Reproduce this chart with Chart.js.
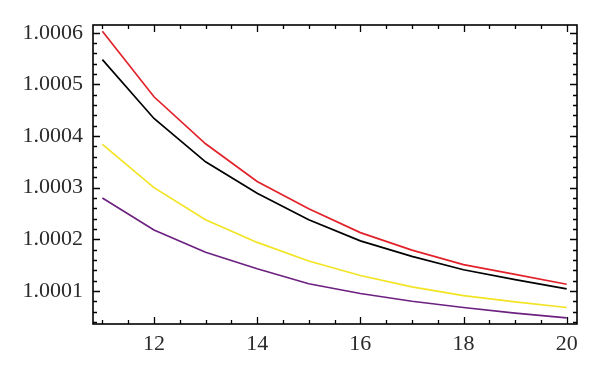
<!DOCTYPE html>
<html>
<head>
<meta charset="utf-8">
<script src="https://cdn.jsdelivr.net/npm/chart.js@4.4.0/dist/chart.umd.min.js"></script>
<style>
  html, body { margin: 0; padding: 0; background: #fff; }
  #wrap { width: 600px; height: 377px; }
</style>
</head>
<body>
<div id="wrap"><canvas id="chart-ratio" width="600" height="377"></canvas></div>
<script>
var xValues = [11, 12, 13, 14, 15, 16, 17, 18, 19, 20];
var redValues = [1.000603, 1.000476, 1.000385, 1.000312, 1.000259, 1.000213, 1.000179, 1.000151, 1.000132, 1.000113];
var blackValues = [1.000548, 1.000434, 1.000350, 1.000289, 1.000238, 1.000197, 1.000167, 1.000141, 1.000122, 1.000104];
var yellowValues = [1.000384, 1.000300, 1.000238, 1.000194, 1.000158, 1.000130, 1.000108, 1.000091, 1.000079, 1.000068];
var purpleValues = [1.000280, 1.000218, 1.000175, 1.000143, 1.000114, 1.000095, 1.000080, 1.000068, 1.000057, 1.000048];
var xTicks = [12, 14, 16, 18, 20];
var yTicks = [1.0001, 1.0002, 1.0003, 1.0004, 1.0005, 1.0006];

window.ratioChart = (function () {
    var fontSpec = { family: '"Liberation Serif", "Times New Roman", serif', size: 22 };

    var toPoints = function (ys) {
        var pts = [];
        for (var i = 0; i < xValues.length; ++i) {
            pts.push({ x: xValues[i], y: ys[i] });
        }
        return pts;
    };

    var makeSet = function (ys, color) {
        return {
            data: toPoints(ys),
            borderColor: color,
            borderWidth: 1.7,
            pointRadius: 0,
            tension: 0,
            fill: false
        };
    };

    // frame with inward ticks on all four sides (Mathematica style)
    var frameTicks = {
        id: 'frameTicks',
        afterDatasetsDraw: function (chart) {
            var ctx = chart.ctx;
            var a = chart.chartArea;
            var xs = chart.scales.x;
            var ys = chart.scales.y;
            var v, p, len, k;
            ctx.save();
            ctx.strokeStyle = '#000';
            ctx.lineWidth = 1.3;
            ctx.beginPath();
            for (k = 0; k * 0.5 + 10.5 <= xs.max; ++k) {
                v = 10.5 + k * 0.5;
                if (v < xs.min) continue;
                p = Math.round(xs.getPixelForValue(v)) + 0.5;
                len = (v % 2 === 0) ? 7 : 4;
                ctx.moveTo(p, a.bottom); ctx.lineTo(p, a.bottom - len);
                ctx.moveTo(p, a.top); ctx.lineTo(p, a.top + len);
            }
            for (k = 0; k <= 40; ++k) {
                v = 1 + k * 0.00002;
                if (v < ys.min || v > ys.max) continue;
                p = Math.round(ys.getPixelForValue(v)) + 0.5;
                len = (k % 5 === 0) ? 7 : 4;
                ctx.moveTo(a.left, p); ctx.lineTo(a.left + len, p);
                ctx.moveTo(a.right, p); ctx.lineTo(a.right - len, p);
            }
            ctx.stroke();
            ctx.lineWidth = 1.6;
            ctx.strokeRect(a.left, a.top, a.right - a.left, a.bottom - a.top);
            ctx.restore();
        }
    };

    var init = function () {
        var ctx = document.getElementById('chart-ratio');
        return new Chart(ctx, {
            type: 'line',
            data: {
                datasets: [
                    makeSet(redValues, '#e2222a'),
                    makeSet(blackValues, '#000000'),
                    makeSet(yellowValues, '#f2e422'),
                    makeSet(purpleValues, '#6c2080')
                ]
            },
            options: {
                responsive: false,
                animation: false,
                layout: { padding: { top: 25, right: 23, left: 0, bottom: 0 } },
                plugins: { legend: { display: false }, tooltip: { enabled: false } },
                scales: {
                    x: {
                        type: 'linear',
                        min: 10.818,
                        max: 20.2,
                        border: { display: false },
                        grid: { display: false, drawTicks: false },
                        afterBuildTicks: function (axis) {
                            axis.ticks = xTicks.map(function (t) { return { value: t }; });
                        },
                        afterFit: function (axis) { axis.height = 53; },
                        ticks: {
                            padding: 7,
                            maxRotation: 0,
                            color: '#2a2a2a',
                            font: fontSpec,
                            callback: function (v) { return String(v); }
                        }
                    },
                    y: {
                        type: 'linear',
                        min: 1.000036,
                        max: 1.000615,
                        border: { display: false },
                        grid: { display: false, drawTicks: false },
                        afterBuildTicks: function (axis) {
                            axis.ticks = yTicks.map(function (t) { return { value: t }; });
                        },
                        afterFit: function (axis) { axis.width = 93; },
                        ticks: {
                            padding: 10,
                            color: '#2a2a2a',
                            font: fontSpec,
                            callback: function (v) { return Number(v).toFixed(4); }
                        }
                    }
                }
            },
            plugins: [frameTicks]
        });
    };

    return { chart: init() };
})();
</script>
</body>
</html>
